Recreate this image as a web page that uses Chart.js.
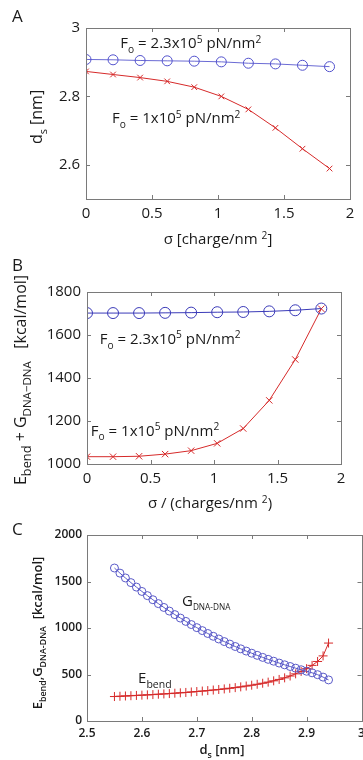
<!DOCTYPE html>
<html>
<head>
<meta charset="utf-8">
<script src="https://cdn.jsdelivr.net/npm/chart.js@4.4.1/dist/chart.umd.min.js"></script>
<style>
  html, body { margin: 0; padding: 0; background: #fff; overflow: hidden; }
  body { width: 363px; height: 760px; position: relative; }
  canvas { position: absolute; left: 0; }
</style>
</head>
<body>
<canvas id="panelA" width="380" height="250" style="top:0px"></canvas>
<canvas id="panelB" width="380" height="270" style="top:250px"></canvas>
<canvas id="panelC" width="380" height="240" style="top:520px"></canvas>
<script>
// ---- data ----
const sigma = [0, 0.205, 0.41, 0.615, 0.82, 1.025, 1.23, 1.435, 1.64, 1.845];

// panel A: separation d_s [nm]
const dsHighF = [2.908, 2.907, 2.905, 2.904, 2.903, 2.901, 2.897, 2.895, 2.891, 2.887];
const dsLowF  = [2.873, 2.864, 2.855, 2.844, 2.827, 2.800, 2.762, 2.708, 2.647, 2.589];

// panel B: E_bend + G_DNA-DNA [kcal/mol]
const energyHighF = [1702, 1702, 1702, 1703, 1704, 1706, 1707, 1710, 1715, 1723];
const energyLowF  = [1034, 1034, 1036, 1046, 1062, 1096, 1165, 1296, 1486, 1722];

// panel C: energies vs d_s
const dsC = [2.55, 2.56, 2.57, 2.58, 2.59, 2.60, 2.61, 2.62, 2.63, 2.64,
             2.65, 2.66, 2.67, 2.68, 2.69, 2.70, 2.71, 2.72, 2.73, 2.74,
             2.75, 2.76, 2.77, 2.78, 2.79, 2.80, 2.81, 2.82, 2.83, 2.84,
             2.85, 2.86, 2.87, 2.88, 2.89, 2.90, 2.91, 2.92, 2.93, 2.94];
const gDnaDna = [1645, 1590, 1538, 1488, 1440, 1393, 1348, 1304, 1262, 1221,
                 1182, 1144, 1107, 1071, 1037, 1004, 972, 941, 911, 882,
                 854, 827, 801, 776, 752, 729, 706, 684, 663, 643,
                 623, 604, 586, 568, 551, 535, 518, 498, 472, 442];
const eBend = [263, 266, 269, 272, 275, 278, 281, 284, 288, 291,
               295, 299, 303, 307, 312, 317, 322, 327, 333, 339,
               345, 352, 359, 367, 376, 385, 395, 406, 418, 432,
               447, 464, 484, 507, 533, 563, 598, 640, 700, 838];

// tick values
const xTicksAB = [0, 0.5, 1, 1.5, 2];
const yTicksA = [2.6, 2.8, 3];
const yTicksB = [1000, 1200, 1400, 1600, 1800];
const xTicksC = [2.5, 2.6, 2.7, 2.8, 2.9, 3];
const yTicksC = [0, 500, 1000, 1500, 2000];

const RED = '#d62a2a';
const FAM = '"Open Sans", "Noto Sans", sans-serif';

function fontStr(size, weight) { return (weight || 'normal') + ' ' + size + 'px ' + FAM; }

// parts: [[text, 'sub'|'sup'|undefined, scale?], ...]
function partSize(p, size) { return p[1] ? size * (p[2] || 0.68) : size; }

function richWidth(ctx, parts, size, weight) {
  let w = 0;
  for (const p of parts) {
    ctx.font = fontStr(partSize(p, size), weight);
    w += ctx.measureText(p[0]).width;
  }
  return w;
}

// y = vertical middle of main text
function drawRich(ctx, parts, x, y, size, align, weight) {
  ctx.textAlign = 'left';
  ctx.textBaseline = 'alphabetic';
  let cx = align === 'center' ? x - richWidth(ctx, parts, size, weight) / 2 : x;
  const base = y + size * 0.36;
  for (const p of parts) {
    ctx.font = fontStr(partSize(p, size), weight);
    const dy = p[1] === 'sub' ? size * 0.32 : p[1] === 'sup' ? -size * 0.38 : 0;
    ctx.fillText(p[0], cx, base + dy);
    cx += ctx.measureText(p[0]).width;
  }
}

// frame, inward ticks and rich-text titles / labels
const decorPlugin = {
  id: 'decor',
  afterDraw(chart, args, opts) {
    const ctx = chart.ctx;
    const a = chart.chartArea;
    const xs = chart.scales.x, ys = chart.scales.y;
    ctx.save();
    ctx.strokeStyle = '#7a7a7a';
    ctx.lineWidth = 1;
    ctx.strokeRect(Math.round(a.left) + 0.5, Math.round(a.top) + 0.5,
                   Math.round(a.right - a.left), Math.round(a.bottom - a.top));
    ctx.beginPath();
    const tl = 4;
    xs.ticks.forEach(t => {
      const px = Math.round(xs.getPixelForValue(t.value)) + 0.5;
      ctx.moveTo(px, a.bottom); ctx.lineTo(px, a.bottom - tl);
      ctx.moveTo(px, a.top); ctx.lineTo(px, a.top + tl);
    });
    ys.ticks.forEach(t => {
      const py = Math.round(ys.getPixelForValue(t.value)) + 0.5;
      ctx.moveTo(a.left, py); ctx.lineTo(a.left + tl, py);
      ctx.moveTo(a.right, py); ctx.lineTo(a.right - tl, py);
    });
    ctx.stroke();

    ctx.fillStyle = '#1a1a1a';
    // panel letter
    ctx.font = fontStr(17);
    ctx.textAlign = 'left';
    ctx.textBaseline = 'middle';
    ctx.fillText(opts.letter[0], opts.letter[1], opts.letter[2]);
    // x title
    const xt = opts.xTitle;
    drawRich(ctx, xt.parts, xt.x, xt.y, xt.size, 'center', xt.weight);
    // y title (rotated)
    const yt = opts.yTitle;
    ctx.save();
    ctx.translate(yt.x, yt.y);
    ctx.rotate(-Math.PI / 2);
    drawRich(ctx, yt.parts, 0, 0, yt.size, 'center', yt.weight);
    ctx.restore();
    // annotations placed in data coordinates
    (opts.notes || []).forEach(n => {
      drawRich(ctx, n.parts, xs.getPixelForValue(n.x), ys.getPixelForValue(n.y), n.size, 'left', n.weight);
    });
    ctx.restore();
  }
};

function fmt(v) { return String(Math.round(v * 100) / 100); }

function makePanel(id, p) {
  const canvas = document.getElementById(id);
  const W = canvas.width, H = canvas.height;
  return new Chart(canvas, {
    type: 'scatter',
    data: { datasets: p.datasets },
    plugins: [decorPlugin],
    options: {
      responsive: false,
      animation: false,
      layout: { padding: { left: 0, right: W - p.area.right, top: p.area.top, bottom: 0 } },
      plugins: { legend: { display: false }, tooltip: { enabled: false }, decor: p.decor },
      scales: {
        x: {
          type: 'linear', min: p.xMin, max: p.xMax,
          grid: { display: false, drawTicks: false }, border: { display: false },
          afterBuildTicks: s => { s.ticks = p.xTicks.map(v => ({ value: v })); },
          afterFit: s => { s.height = H - p.area.bottom; },
          ticks: { color: '#1a1a1a', padding: p.tickPad, font: p.tickFont, callback: fmt, maxRotation: 0, autoSkip: false }
        },
        y: {
          type: 'linear', min: p.yMin, max: p.yMax,
          grid: { display: false, drawTicks: false }, border: { display: false },
          afterBuildTicks: s => { s.ticks = p.yTicks.map(v => ({ value: v })); },
          afterFit: s => { s.width = p.area.left; },
          ticks: { color: '#1a1a1a', padding: p.tickPad, font: p.tickFont, callback: fmt, autoSkip: false }
        }
      }
    }
  });
}

function series(xs, ys, color, style, radius, lineColor) {
  return {
    data: xs.map((x, i) => ({ x: x, y: ys[i] })),
    showLine: true,
    borderColor: lineColor || color,
    borderWidth: 1,
    pointStyle: style,
    pointRadius: radius,
    pointBorderColor: color,
    pointBackgroundColor: 'rgba(0,0,0,0)',
    pointBorderWidth: 1
  };
}

const F_HIGH = [['F'], ['o', 'sub'], [' = 2.3x10'], ['5', 'sup'], [' pN/nm'], ['2', 'sup']];
const F_LOW = [['F'], ['o', 'sub'], [' = 1x10'], ['5', 'sup'], [' pN/nm'], ['2', 'sup']];

makePanel('panelA', {
  area: { left: 86, right: 350, top: 28, bottom: 199 },
  xMin: 0, xMax: 2, yMin: 2.5, yMax: 3,
  xTicks: xTicksAB, yTicks: yTicksA,
  tickPad: 6, tickFont: { family: FAM, size: 15 },
  datasets: [
    series(sigma, dsHighF, '#5050cc', 'circle', 5, '#6a6ad4'),
    series(sigma, dsLowF, RED, 'crossRot', 4)
  ],
  decor: {
    letter: ['A', 12, 17],
    xTitle: { parts: [['σ [charge/nm '], ['2', 'sup'], [']']], x: 218, y: 239, size: 15 },
    yTitle: { parts: [['d'], ['s', 'sub'], [' [nm]']], x: 36, y: 117, size: 16 },
    notes: [
      { parts: F_HIGH, x: 0.26, y: 2.956, size: 15 },
      { parts: F_LOW, x: 0.197, y: 2.737, size: 15 }
    ]
  }
});

makePanel('panelB', {
  area: { left: 87, right: 341, top: 42, bottom: 214 },
  xMin: 0, xMax: 2, yMin: 1000, yMax: 1800,
  xTicks: xTicksAB, yTicks: yTicksB,
  tickPad: 6, tickFont: { family: FAM, size: 15 },
  datasets: [
    series(sigma, energyHighF, '#3a3ab8', 'circle', 5.5),
    series(sigma, energyLowF, RED, 'crossRot', 4.5)
  ],
  decor: {
    letter: ['B', 12, 16],
    xTitle: { parts: [['σ / (charges/nm '], ['2', 'sup'], [')']], x: 210, y: 253, size: 15 },
    yTitle: { parts: [['E'], ['bend', 'sub', 0.8], [' + G'], ['DNA−DNA', 'sub', 0.72], ['   [kcal/mol]']], x: 20, y: 130, size: 16 },
    notes: [
      { parts: F_HIGH, x: 0.10, y: 1583, size: 15 },
      { parts: F_LOW, x: 0.03, y: 1157, size: 15 }
    ]
  }
});

makePanel('panelC', {
  area: { left: 87, right: 361.5, top: 15, bottom: 201 },
  xMin: 2.5, xMax: 3, yMin: 0, yMax: 2000,
  xTicks: xTicksC, yTicks: yTicksC,
  tickPad: 5, tickFont: { family: FAM, size: 12, weight: '600' },
  datasets: [
    series(dsC, gDnaDna, '#5a5ac8', 'circle', 4),
    series(dsC, eBend, RED, 'cross', 4.5)
  ],
  decor: {
    letter: ['C', 12, 10],
    xTitle: { parts: [['d'], ['s', 'sub'], [' [nm]']], x: 222, y: 229, size: 13, weight: '600' },
    yTitle: { parts: [['E'], ['bend', 'sub'], [',G'], ['DNA-DNA', 'sub'], ['  [kcal/mol]']], x: 37, y: 113, size: 13, weight: '600' },
    notes: [
      { parts: [['G'], ['DNA-DNA', 'sub', 0.55]], x: 2.673, y: 1299, size: 15 },
      { parts: [['E'], ['bend', 'sub', 0.7]], x: 2.593, y: 467, size: 15 }
    ]
  }
});
</script>
</body>
</html>
